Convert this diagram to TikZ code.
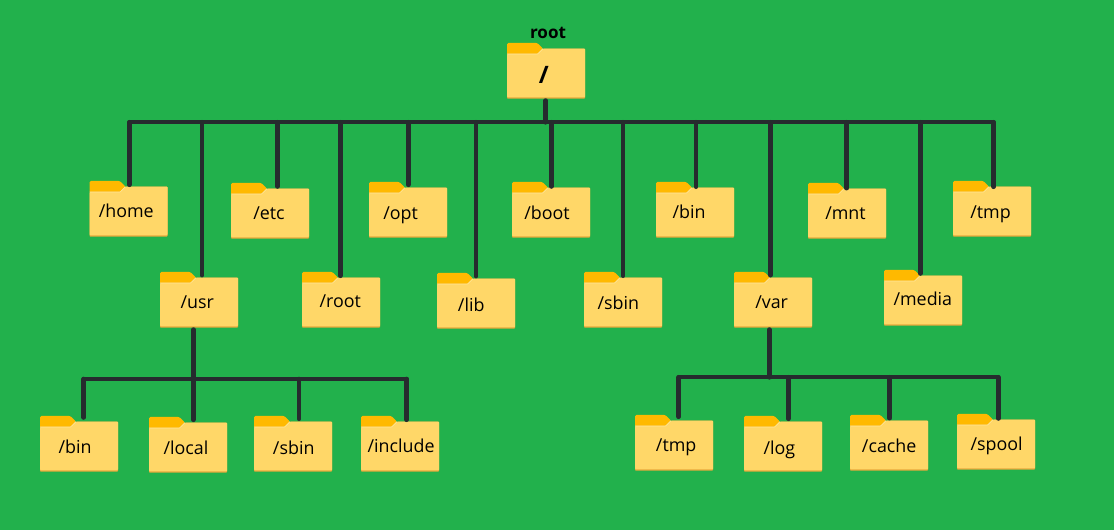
\documentclass[tikz,border=0pt]{standalone}
\usepackage{fontspec}
\setmainfont{Open Sans}
\definecolor{bg}{HTML}{22B14C}
\definecolor{fbody}{HTML}{FFD768}
\definecolor{ftab}{HTML}{FFB900}
\definecolor{fedge}{HTML}{E9A93C}
\definecolor{flight}{HTML}{FFE79A}
\definecolor{wire}{HTML}{262B2E}
\tikzset{
  foldershape/.style={anchor=north west,minimum width=58.5pt,minimum height=37pt,
    inner sep=0pt,yshift=-4.3pt},
  foldertext/.style={anchor=base west,inner sep=0pt,text=black,font=\fontsize{13.4}{15}\selectfont},
  slashtext/.style={anchor=base west,inner sep=0pt,text=black,font=\fontsize{18}{20}\bfseries\selectfont},
  rootlabel/.style={anchor=base,font=\fontsize{12.8}{13}\bfseries\selectfont,text=black,inner sep=0pt},
  stem/.style={draw=wire,line width=3.5pt,line cap=round},
  bus/.style={draw=wire,line width=3pt,line cap=round},
}
% \folder{name}{left}{tabtop}
\newcommand{\folder}[3]{%
  \begin{scope}[shift={(#2,#3)}]
    \fill[ftab,rounded corners=1pt] (0,12) -- (0,0) -- (30.5,0) -- (36,5.7) -- (36,12) -- cycle;
    \fill[fedge,rounded corners=.6pt] (0,11) -- (0,55.6) -- (78,55.6) -- (78,5.7) -- (36,5.7) -- (30.5,11) -- cycle;
    \fill[fbody,rounded corners=.6pt] (0,11) -- (0,54.3) -- (78,54.3) -- (78,5.7) -- (36,5.7) -- (30.5,11) -- cycle;
    \draw[flight,line width=.5pt] (0,11) -- (30.5,11) -- (36,5.7);
  \end{scope}
  \node[foldershape] (#1) at (#2,#3) {};%
}
\begin{document}
\begin{tikzpicture}[x=0.75pt,y=-0.75pt]
\useasboundingbox (0,0) rectangle (1114,530);
\fill[bg] (0,0) rectangle (1114,530);
\node[rootlabel] (rootlbl) at (548,38.7) {root};
\foreach \n/\l/\t in {rootf/507/43,home/89.5/181,etc/231/183,opt/369/182,boot/512/182,bin/656/182,mnt/808/183,tmp/953/181,usr/160/272,rootd/302/272,lib/437/273,sbin/584/272,var/734/272,media/884/270,ubin/40/416,local/149/417,usbin/254/416,include/361/416,vtmp/635/415,log/744/416,cache/850/415,spool/957/414}
  {\folder{\n}{\l}{\t}}
\node[slashtext] (rootfl) at (538.5,84) {/};
\node[foldertext] (homel) at (98.5,217.7) {/home};
\node[foldertext] (etcl) at (253,219.3) {/etc};
\node[foldertext] (optl) at (383,219.3) {/opt};
\node[foldertext] (bootl) at (524,219.3) {/boot};
\node[foldertext] (binl) at (672.3,218.3) {/bin};
\node[foldertext] (mntl) at (825,219.3) {/mnt};
\node[foldertext] (tmpl) at (970,218.3) {/tmp};
\node[foldertext] (usrl) at (180.3,308.3) {/usr};
\node[foldertext] (rootdl) at (319.3,307.7) {/root};
\node[foldertext] (libl) at (457.7,311.7) {/lib};
\node[foldertext] (sbinl) at (597.3,309.3) {/sbin};
\node[foldertext] (varl) at (755,308.3) {/var};
\node[foldertext] (medial) at (893.3,306) {/media};
\node[foldertext] (ubinl) at (58.3,454) {/bin};
\node[foldertext] (locall) at (163.3,455) {/local};
\node[foldertext] (usbinl) at (272.7,455) {/sbin};
\node[foldertext] (includel) at (367.3,453) {/include};
\node[foldertext] (vtmpl) at (655.7,452) {/tmp};
\node[foldertext] (logl) at (763.3,455) {/log};
\node[foldertext] (cachel) at (861.7,452.7) {/cache};
\node[foldertext] (spooll) at (970.3,450.7) {/spool};
% junctions on the buses
\foreach \n/\x in {jhome/129.3,jusr/202,jetc/277.5,jrootd/340.3,jopt/408.3,jlib/476,jroot/545.7,jboot/551.3,jsbin/623,jbin/696,jvar/770.3,jmnt/846.7,jmedia/920.3,jtmp/993.7}
  \coordinate (\n) at (\x,122.3);
\foreach \n/\x in {jubin/83.7,jusr2/193.5,jlocal/193.3,jusbin/299,jinclude/406.7}
  \coordinate (\n) at (\x,379);
\foreach \n/\x in {jvtmp/678.7,jvar2/769.3,jlog/788.3,jcache/889.7,jspool/998.3}
  \coordinate (\n) at (\x,377.3);
\draw[bus] (jhome) -- (jtmp);
\draw[stem] (jroot) -- ([yshift=-1.5pt]jroot |- rootf.south);
\foreach \j/\f/\u in {jhome/home/2,jusr/usr/2.6,jetc/etc/2.3,jrootd/rootd/2,jopt/opt/3,jlib/lib/2.6,jboot/boot/1.3,jsbin/sbin/2,jbin/bin/1,jvar/var/2.6,jmnt/mnt/.6,jmedia/media/2.3,jtmp/tmp/0}
  \draw[stem] (\j) -- ([yshift=\u*0.75pt]\j |- \f.north);
\draw[bus] (jubin) -- (jinclude);
\draw[stem] (jusr2) -- ([yshift=-1.5pt]jusr2 |- usr.south);
\foreach \j/\f/\u in {jubin/ubin/4.3,jlocal/local/3,jusbin/usbin/3,jinclude/include/2}
  \draw[stem] (\j) -- ([yshift=\u*0.75pt]\j |- \f.north);
\draw[bus] (jvtmp) -- (jspool);
\draw[stem] (jvar2) -- ([yshift=-1.5pt]jvar2 |- var.south);
\foreach \j/\f/\u in {jvtmp/vtmp/4,jlog/log/3,jcache/cache/2.6,jspool/spool/1.3}
  \draw[stem] (\j) -- ([yshift=\u*0.75pt]\j |- \f.north);
\end{tikzpicture}
\end{document}
